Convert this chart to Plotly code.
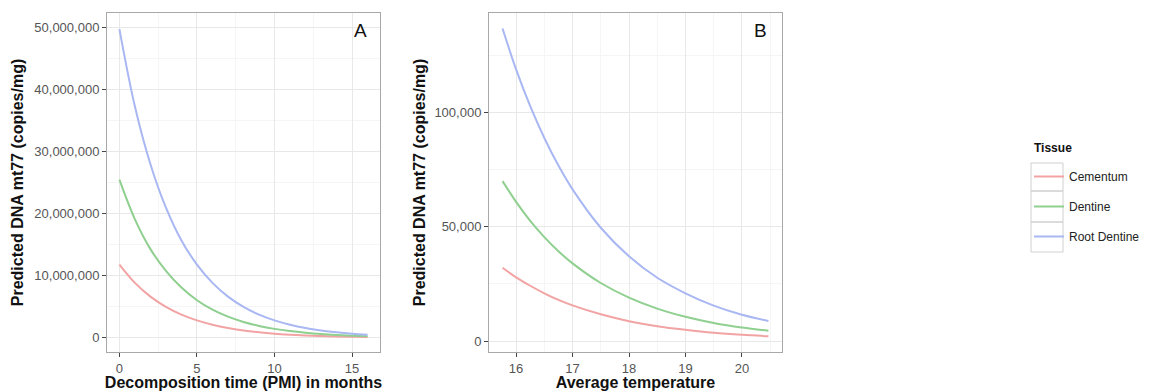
import plotly.graph_objects as go

# ---------------- data ----------------
tissues = ["Cementum", "Dentine", "Root Dentine"]
colors = ["#f2a3a3", "#8fcf8f", "#a9b7f2"]

# Panel A: decomposition time (months)
pmi_months = [0, 1, 2, 3, 4, 5, 6, 7, 8, 9, 10, 11, 12, 13, 14, 15, 16]
pmi_cementum = [11.8e6, 8.85e6, 6.64e6, 4.98e6, 3.73e6, 2.80e6, 2.10e6, 1.57e6, 1.18e6,
                0.88e6, 0.66e6, 0.50e6, 0.37e6, 0.28e6, 0.21e6, 0.16e6, 0.12e6]
pmi_dentine = [25.5e6, 19.1e6, 14.3e6, 10.8e6, 8.1e6, 6.05e6, 4.53e6, 3.40e6, 2.55e6,
               1.91e6, 1.43e6, 1.08e6, 0.81e6, 0.60e6, 0.45e6, 0.34e6, 0.26e6]
pmi_root = [49.8e6, 37.3e6, 28.0e6, 21.0e6, 15.7e6, 11.8e6, 8.85e6, 6.63e6, 4.97e6,
            3.73e6, 2.80e6, 2.10e6, 1.57e6, 1.18e6, 0.88e6, 0.66e6, 0.50e6]

# Panel B: average temperature
temp = [15.76, 16.0, 16.25, 16.5, 16.75, 17.0, 17.5, 18.0, 18.5, 19.0, 19.5, 20.0, 20.47]
temp_cementum = [32100, 27900, 24200, 20900, 18000, 15600, 11700, 8700, 6500, 4900, 3600, 2700, 2100]
temp_dentine = [70000, 60900, 52600, 45500, 39300, 34000, 25400, 19000, 14200, 10600, 7900, 5900, 4500]
temp_root = [136800, 118900, 102800, 88900, 76800, 66400, 49600, 37100, 27700, 20900, 15500, 11500, 8800]

xticks_a = [0, 5, 10, 15]
yticks_a = [0, 10e6, 20e6, 30e6, 40e6, 50e6]
xticks_b = [16, 17, 18, 19, 20]
yticks_b = [0, 50000, 100000]

# ---------------- figure ----------------
FONT = "Liberation Sans, Arial, Helvetica, sans-serif"
W, H = 1155, 391
ML, MR, MT, MB = 107, 373, 13, 39

fig = go.Figure()
a_series = [pmi_cementum, pmi_dentine, pmi_root]
b_series = [temp_cementum, temp_dentine, temp_root]
for name, col, ya in zip(tissues, colors, a_series):
    fig.add_trace(go.Scatter(x=pmi_months, y=ya, mode="lines", name=name,
                             legendgroup=name, line=dict(color=col, width=2, shape="spline"),
                             xaxis="x", yaxis="y"))
for name, col, yb in zip(tissues, colors, b_series):
    fig.add_trace(go.Scatter(x=temp, y=yb, mode="lines", name=name, showlegend=False,
                             legendgroup=name, line=dict(color=col, width=2, shape="spline"),
                             xaxis="x2", yaxis="y2"))

plot_w = W - ML - MR
ph = H - MT - MB


def dom(p0, p1):
    return [(p0 - ML) / plot_w, (p1 - ML) / plot_w]


def px_x(p):
    return (p - ML) / plot_w


def px_y(p):
    return 1 - (p - MT) / ph


axis_common = dict(
    showline=True, mirror=True, linecolor="#a8a8a8", linewidth=1,
    showgrid=True, gridcolor="#e8e8e8", gridwidth=1,
    ticks="outside", ticklen=4, tickcolor="#444444", tickwidth=1,
    tickfont=dict(family=FONT, size=13, color="#555555"),
    zeroline=False,
)
title_font = dict(family=FONT, size=16, color="#111111")

fig.update_layout(
    width=W, height=H,
    margin=dict(l=ML, r=MR, t=MT, b=MB, autoexpand=False),
    paper_bgcolor="white", plot_bgcolor="white",
    font=dict(family=FONT, color="#222222"),
    xaxis=dict(axis_common, domain=dom(107, 380), range=[-0.8, 16.8],
               tickvals=xticks_a, anchor="y",
               minor=dict(showgrid=True, gridcolor="#f5f5f5", tickvals=[2.5, 7.5, 12.5], ticks=""),
               title=dict(text="<b>Decomposition time (PMI) in months</b>", font=title_font, standoff=0)),
    yaxis=dict(axis_common, domain=[0, 1], range=[-2.3e6, 52.4e6],
               tickvals=yticks_a, tickformat=",", anchor="x",
               minor=dict(showgrid=True, gridcolor="#f5f5f5",
                          tickvals=[5e6, 15e6, 25e6, 35e6, 45e6], ticks=""),
               title=dict(text="<b>Predicted DNA mt77 (copies/mg)</b>", font=title_font, standoff=6)),
    xaxis2=dict(axis_common, domain=dom(489, 782), range=[15.52, 20.71],
                tickvals=xticks_b, anchor="y2",
                minor=dict(showgrid=True, gridcolor="#f5f5f5",
                           tickvals=[15.5, 16.5, 17.5, 18.5, 19.5, 20.5], ticks=""),
                title=dict(text="<b>Average temperature</b>", font=title_font, standoff=0)),
    yaxis2=dict(axis_common, domain=[0, 1], range=[-4800, 143600],
                tickvals=yticks_b, tickformat=",", anchor="x2",
                minor=dict(showgrid=True, gridcolor="#f5f5f5",
                           tickvals=[25000, 75000, 125000], ticks=""),
                title=dict(text="<b>Predicted DNA mt77 (copies/mg)</b>", font=title_font, standoff=4)),
    legend=dict(
        font=dict(family=FONT, size=12, color="#222222"),
        x=px_x(1029), xanchor="left",
        y=px_y(162), yanchor="top",
        traceorder="grouped", tracegroupgap=11,
        bgcolor="rgba(0,0,0,0)", borderwidth=0,
    ),
    annotations=[
        dict(text="A", xref="x domain", yref="y domain", x=0.930, y=0.947,
             xanchor="center", yanchor="middle",
             showarrow=False, font=dict(family=FONT, size=19, color="#111111")),
        dict(text="B", xref="x2 domain", yref="y2 domain", x=0.928, y=0.947,
             xanchor="center", yanchor="middle",
             showarrow=False, font=dict(family=FONT, size=19, color="#111111")),
        dict(text="<b>Tissue</b>", xref="paper", yref="paper", x=px_x(1032), y=px_y(148),
             xanchor="left", yanchor="middle",
             showarrow=False, font=dict(family=FONT, size=12, color="#111111")),
    ],
)

# grey legend-key boxes (ggplot style)
for top, bot in [(163, 191), (191, 222), (222, 252)]:
    fig.add_shape(type="rect", xref="paper", yref="paper",
                  x0=px_x(1031), x1=px_x(1063), y0=px_y(bot), y1=px_y(top),
                  line=dict(color="#d0d0d0", width=1), fillcolor="rgba(0,0,0,0)", layer="below")

fig.write_html("out.html")
